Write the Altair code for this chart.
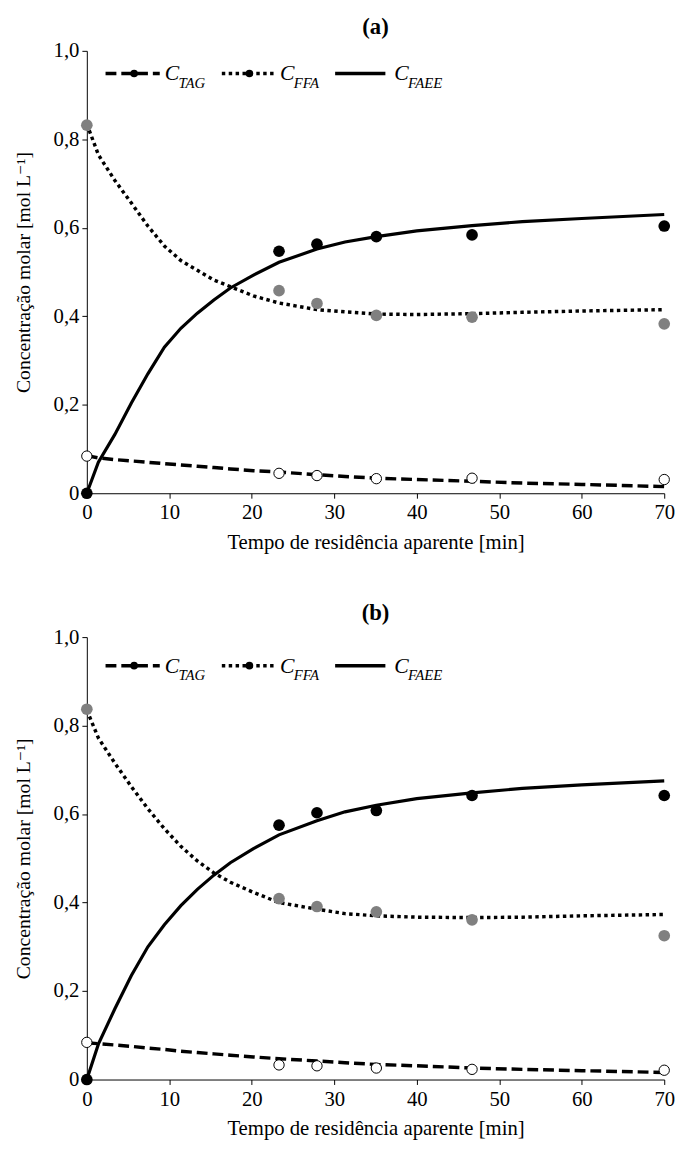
import altair as alt
import pandas as pd

# ---------------- data ----------------
t_exp = [0, 23.3, 27.9, 35.1, 46.7, 70]

a_tag_exp = [0.084, 0.045, 0.040, 0.033, 0.034, 0.031]
a_ffa_exp = [0.832, 0.458, 0.429, 0.402, 0.398, 0.383]
a_faee_exp = [0.0, 0.547, 0.563, 0.580, 0.584, 0.604]

b_tag_exp = [0.084, 0.033, 0.031, 0.026, 0.023, 0.021]
b_ffa_exp = [0.837, 0.409, 0.391, 0.379, 0.361, 0.325]
b_faee_exp = [0.0, 0.575, 0.603, 0.608, 0.642, 0.642]

t_model = [0, 1.4, 3.4, 5.4, 7.4, 9.4, 11.4, 13.4, 15.4, 17.4, 20.2, 23.3, 27.9, 31.3,
           35.1, 40, 46.7, 52.8, 60, 70]

a_tag_model = [0.085, 0.080, 0.076, 0.073, 0.070, 0.067, 0.064, 0.061, 0.058, 0.055, 0.051,
               0.048, 0.042, 0.038, 0.034, 0.031, 0.027, 0.023, 0.020, 0.015]
a_ffa_model = [0.835, 0.765, 0.707, 0.656, 0.604, 0.559, 0.526, 0.504, 0.482, 0.467, 0.446,
               0.430, 0.415, 0.410, 0.405, 0.404, 0.406, 0.409, 0.412, 0.415]
a_faee_model = [0.0, 0.070, 0.133, 0.204, 0.270, 0.330, 0.373, 0.407, 0.437, 0.464, 0.493,
                0.522, 0.552, 0.568, 0.580, 0.593, 0.605, 0.614, 0.621, 0.630]

b_tag_model = [0.083, 0.081, 0.078, 0.075, 0.071, 0.068, 0.064, 0.061, 0.058, 0.055, 0.051,
               0.047, 0.042, 0.038, 0.034, 0.031, 0.026, 0.023, 0.020, 0.016]
b_ffa_model = [0.835, 0.772, 0.715, 0.662, 0.612, 0.567, 0.527, 0.494, 0.467, 0.446, 0.423,
               0.400, 0.385, 0.375, 0.370, 0.367, 0.366, 0.367, 0.370, 0.373]
b_faee_model = [0.0, 0.080, 0.160, 0.235, 0.300, 0.350, 0.393, 0.430, 0.462, 0.490, 0.522,
                0.553, 0.585, 0.605, 0.620, 0.635, 0.648, 0.658, 0.666, 0.675]

series_names = ["TAG", "FFA", "FAEE"]
x_ticks = [0, 10, 20, 30, 40, 50, 60, 70]
y_ticks = [0, 0.2, 0.4, 0.6, 0.8, 1.0]

FONT = "Liberation Serif, Times New Roman, DejaVu Serif, serif"
W, H = 586, 449


def long_df(t, tag, ffa, faee):
    rows = []
    for name, vals in zip(series_names, [tag, ffa, faee]):
        for ti, v in zip(t, vals):
            rows.append({"t": ti, "value": v, "series": name})
    return pd.DataFrame(rows)


def panel(title, exp_vals, model_vals, leg_y):
    de = long_df(t_exp, *exp_vals)
    dm = long_df(t_model, *model_vals)

    x = alt.X("t:Q", scale=alt.Scale(domain=[0, 70], nice=False, zero=False),
              axis=alt.Axis(values=x_ticks, title="Tempo de residência aparente [min]",
                            labelFlush=False, labelFont=FONT, titleFont=FONT))
    y = alt.Y("value:Q", scale=alt.Scale(domain=[0, 1], nice=False),
              axis=alt.Axis(values=y_ticks, title="Concentração molar [mol L⁻¹]",
                            labelFont=FONT, titleFont=FONT,
                            labelExpr="datum.value == 0 ? '0' : replace(format(datum.value, '.1f'), '.', ',')"))

    base_m = alt.Chart(dm)
    l_tag = base_m.transform_filter("datum.series == 'TAG'").mark_line(
        color="black", strokeWidth=3.5, strokeDash=[11, 5]).encode(x=x, y=y)
    l_ffa = base_m.transform_filter("datum.series == 'FFA'").mark_line(
        color="black", strokeWidth=3.5, strokeDash=[3.5, 3.5]).encode(x=x, y=y)
    l_faee = base_m.transform_filter("datum.series == 'FAEE'").mark_line(
        color="black", strokeWidth=3.2).encode(x=x, y=y)

    base_e = alt.Chart(de)
    p_tag = base_e.transform_filter("datum.series == 'TAG'").mark_point(
        shape="circle", filled=True, fill="white", stroke="black", strokeWidth=1,
        size=110, opacity=1).encode(x=x, y=y)
    p_ffa = base_e.transform_filter("datum.series == 'FFA'").mark_circle(
        color="#808080", size=140, opacity=1).encode(x=x, y=y)
    p_faee = base_e.transform_filter("datum.series == 'FAEE'").mark_circle(
        color="black", size=140, opacity=1).encode(x=x, y=y)

    dummy = alt.Chart(pd.DataFrame({"k": [0]}))
    leg = []
    items = [
        (19, 74, 48, [11, 5], 79, "TAG"),
        (137, 192, 165, [3.5, 3.5], 196, "FFA"),
        (252, 303, None, None, 312, "FAEE"),
    ]
    for x1, x2, xd, dash, xt, sub in items:
        kw = dict(color="black", strokeWidth=3.5)
        if dash:
            kw["strokeDash"] = dash
        leg.append(dummy.mark_rule(**kw).encode(
            x=alt.value(x1), x2=alt.value(x2), y=alt.value(leg_y)))
        if xd is not None:
            leg.append(dummy.mark_circle(color="black", size=60, opacity=1).encode(
                x=alt.value(xd), y=alt.value(leg_y)))
        leg.append(dummy.mark_text(text="C", font=FONT, fontStyle="italic", fontSize=22,
                                   align="left", baseline="alphabetic", color="black").encode(
            x=alt.value(xt), y=alt.value(leg_y + 7)))
        leg.append(dummy.mark_text(text=sub, font=FONT, fontStyle="italic", fontSize=15,
                                   align="left", baseline="alphabetic", color="black").encode(
            x=alt.value(xt + 14), y=alt.value(leg_y + 15)))

    return alt.layer(l_tag, l_ffa, l_faee, p_tag, p_ffa, p_faee, *leg).properties(
        width=W, height=H,
        title=alt.TitleParams(title, fontSize=23, fontWeight="bold", font=FONT,
                              anchor="middle", color="black", offset=1))


pa = panel("(a)", (a_tag_exp, a_ffa_exp, a_faee_exp),
           (a_tag_model, a_ffa_model, a_faee_model), 23)
pb = panel("(b)", (b_tag_exp, b_ffa_exp, b_faee_exp),
           (b_tag_model, b_ffa_model, b_faee_model), 29)

chart = alt.vconcat(pa, pb, spacing=51).properties(
    padding={"left": 5, "top": 0, "right": 5, "bottom": 0}
).configure(font=FONT).configure_view(stroke=None).configure_axis(
    domainColor="black", domainWidth=1, tickColor="black", tickSize=5, tickWidth=1,
    grid=False, labelFont=FONT, labelFontSize=21, labelColor="black", labelPadding=3,
    titleFont=FONT, titleFontSize=21, titleFontWeight="normal", titleColor="black"
).configure_axisX(titlePadding=9, labelPadding=4).configure_axisY(titlePadding=20, titleFontSize=20)

chart.save("out.html", embed_options={"renderer": "svg", "actions": False})
